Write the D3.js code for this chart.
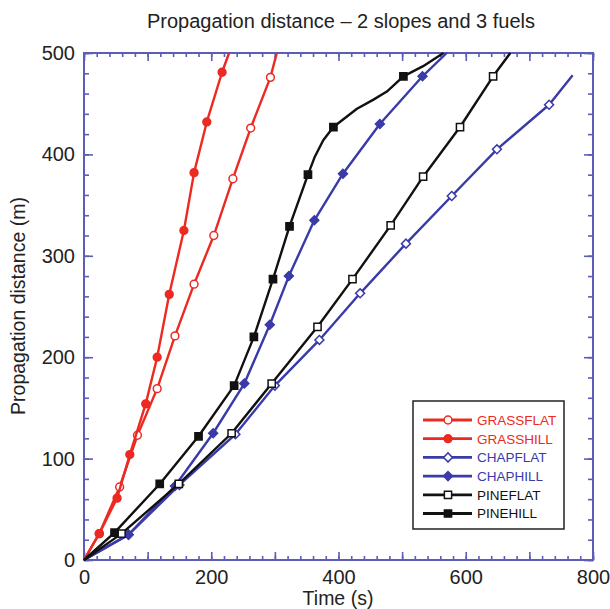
<!DOCTYPE html>
<html><head><meta charset="utf-8">
<script src="https://cdn.jsdelivr.net/npm/d3@7"></script>
<style>body{margin:0;background:#fff} text{font-family:Arial,"Liberation Sans",Helvetica,sans-serif}</style>
</head><body><svg id="c" width="610" height="609"></svg>
<script>
// ---- data ----
const titleText = "Propagation distance – 2 slopes and 3 fuels";
const xLabel = "Time (s)";
const yLabel = "Propagation distance (m)";
const xTickLabels = [0, 200, 400, 600, 800];
const yTickLabels = [0, 100, 200, 300, 400, 500];
const seriesNames = ["GRASSFLAT", "GRASSHILL", "CHAPFLAT", "CHAPHILL", "PINEFLAT", "PINEHILL"];
// [time (s), distance (m), marker flag]
const grassFlat = [[0,0],[24,26,1],[56,72,1],[84,123,1],[115,169,1],[143,221,1],[173,272,1],[204,320,1],[234,376,1],[262,426,1],[293,476,1],[303,500]];
const grassHill = [[0,0],[24,26,1],[52,61,1],[72,104,1],[97,154,1],[115,200,1],[134,262,1],[157,325,1],[173,382,1],[193,432,1],[217,481,1],[228,500]];
const chapFlat  = [[0,0],[70,25,1],[150,74,1],[238,124,1],[300,172,1],[370,217,1],[434,263,1],[506,312,1],[578,359,1],[649,405,1],[731,449,1],[768,478]];
const chapHill  = [[0,0],[70,25,1],[143,73,1],[203,125,1],[252,174,1],[292,232,1],[322,280,1],[362,335,1],[407,381,1],[465,430,1],[532,477,1],[570,500]];
const pineFlat  = [[0,0],[59,26,1],[149,75,1],[232,125,1],[295,174,1],[367,230,1],[422,277,1],[482,330,1],[533,378,1],[591,427,1],[643,477,1],[670,500]];
const pineHill  = [[0,0],[48,27,1],[119,75,1],[180,122,1],[236,172,1],[267,220,1],[297,277,1],[323,329,1],[352,380,1],[363,398],[376,414],[392,427,1],[429,445],[455,454],[476,462],[502,477,1],[533,487],[565,500]];
const seriesData = [grassFlat, grassHill, chapFlat, chapHill, pineFlat, pineHill];
const seriesColors = ["#ec2a22", "#ec2a22", "#3a3aa8", "#3a3aa8", "#111111", "#111111"];
const seriesShapes = ["circle", "circle", "diamond", "diamond", "square", "square"];
const seriesFilled = [false, true, false, true, false, true];

// ---- layout ----
const svg = d3.select("#c");
const L = 84, R = 593, T = 53, B = 560;
const axisColor = "#5b5db6";
const x = d3.scaleLinear().domain([0, 800]).range([L, R]);
const y = d3.scaleLinear().domain([0, 500]).range([B, T]);

svg.append("text").attr("x", 341).attr("y", 28).attr("text-anchor", "middle")
  .attr("font-size", 20).attr("fill", "#222").text(titleText);

// axes
function styleAxis(g) {
  g.select(".domain").remove();
  g.selectAll(".tick line").attr("stroke", axisColor).attr("stroke-width", 1.6);
  g.selectAll(".tick text").attr("fill", "#222").attr("font-size", 20).attr("font-family", "Arial, 'Liberation Sans', sans-serif");
}
const minorX = d3.range(0, 801, 20), majorX = d3.range(0, 801, 100);
const minorY = d3.range(0, 501, 20), majorY = d3.range(0, 501, 100);
const fmtX = d => xTickLabels.includes(d) ? d : "";
const fmtY = d => yTickLabels.includes(d) ? d : "";

svg.append("g").attr("transform", `translate(0,${B})`).call(d3.axisBottom(x).tickValues(minorX).tickSize(-4).tickFormat("")).call(styleAxis);
svg.append("g").attr("transform", `translate(0,${B})`).call(d3.axisBottom(x).tickValues(majorX).tickSize(-8).tickPadding(10).tickFormat(fmtX)).call(styleAxis);
svg.append("g").attr("transform", `translate(0,${T})`).call(d3.axisTop(x).tickValues(minorX).tickSize(-4).tickFormat("")).call(styleAxis);
svg.append("g").attr("transform", `translate(0,${T})`).call(d3.axisTop(x).tickValues(majorX).tickSize(-8).tickFormat("")).call(styleAxis);
svg.append("g").attr("transform", `translate(${L},0)`).call(d3.axisLeft(y).tickValues(minorY).tickSize(-5).tickFormat("")).call(styleAxis);
svg.append("g").attr("transform", `translate(${L},0)`).call(d3.axisLeft(y).tickValues(majorY).tickSize(-9).tickPadding(9).tickFormat(fmtY)).call(styleAxis);
svg.append("g").attr("transform", `translate(${R},0)`).call(d3.axisRight(y).tickValues(minorY).tickSize(-5).tickFormat("")).call(styleAxis);
svg.append("g").attr("transform", `translate(${R},0)`).call(d3.axisRight(y).tickValues(majorY).tickSize(-9).tickFormat("")).call(styleAxis);

svg.append("rect").attr("x", L).attr("y", T).attr("width", R - L).attr("height", B - T)
  .attr("fill", "none").attr("stroke", axisColor).attr("stroke-width", 2);

svg.append("text").attr("x", 338).attr("y", 605).attr("text-anchor", "middle")
  .attr("font-size", 19.5).attr("fill", "#222").text(xLabel);
svg.append("text").attr("transform", "translate(25,306) rotate(-90)").attr("text-anchor", "middle")
  .attr("font-size", 19.5).attr("fill", "#222").text(yLabel);

// markers
function markerPath(shape) {
  if (shape === "circle") return d3.symbol().type(d3.symbolCircle).size(48)();
  if (shape === "square") return d3.symbol().type(d3.symbolSquare).size(52)();
  return d3.symbol().type(d3.symbolSquare).size(40)();
}
const line = d3.line().x(d => x(d[0])).y(d => y(d[1]));
seriesData.forEach((data, i) => {
  const g = svg.append("g");
  g.append("path").datum(data).attr("d", line).attr("fill", "none")
    .attr("stroke", seriesColors[i]).attr("stroke-width", 2.4).attr("stroke-linejoin", "round");
  g.selectAll("path.m").data(data.filter(d => d[2])).enter().append("path").attr("class", "m")
    .attr("d", markerPath(seriesShapes[i]))
    .attr("transform", d => `translate(${x(d[0])},${y(d[1])})` + (seriesShapes[i] === "diamond" ? " rotate(45)" : ""))
    .attr("fill", seriesFilled[i] ? seriesColors[i] : "#fff")
    .attr("stroke", seriesColors[i]).attr("stroke-width", 1.5);
});

// legend
const lg = svg.append("g");
lg.append("rect").attr("x", 413).attr("y", 401).attr("width", 151).attr("height", 128)
  .attr("fill", "#fff").attr("stroke", "#222").attr("stroke-width", 1.5);
seriesNames.forEach((name, i) => {
  const yy = 420 + i * 18.7;
  lg.append("line").attr("x1", 423).attr("x2", 472).attr("y1", yy).attr("y2", yy)
    .attr("stroke", seriesColors[i]).attr("stroke-width", 2.8);
  lg.append("path").attr("d", markerPath(seriesShapes[i]))
    .attr("transform", `translate(448,${yy})` + (seriesShapes[i] === "diamond" ? " rotate(45)" : ""))
    .attr("fill", seriesFilled[i] ? seriesColors[i] : "#fff")
    .attr("stroke", seriesColors[i]).attr("stroke-width", 1.5);
  lg.append("text").attr("x", 477).attr("y", yy).attr("dy", "0.36em").attr("font-size", 13.5)
    .attr("fill", seriesColors[i] === "#111111" ? "#111" : seriesColors[i]).text(name);
});
</script></body></html>
